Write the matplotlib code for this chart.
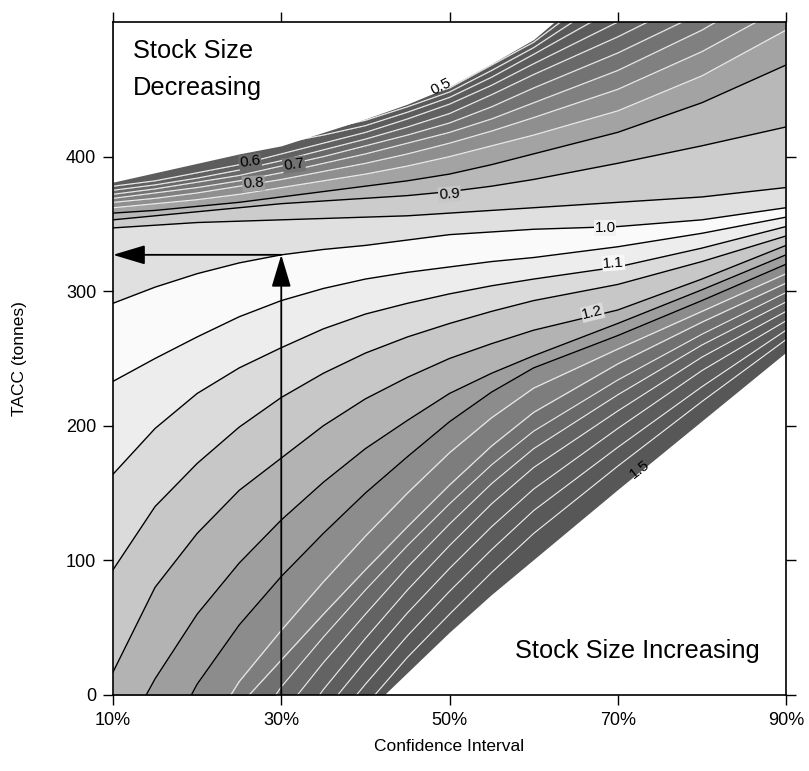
import matplotlib
matplotlib.use("Agg")
import matplotlib.pyplot as plt

plt.rcParams.update({
    "font.family": ["Liberation Sans", "DejaVu Sans"],
    "font.size": 13,
    "axes.linewidth": 1.2,
    "xtick.direction": "out",
    "ytick.direction": "out",
})

# ---- data (TACC, tonnes, at each confidence interval) ----
CI = [10, 15, 20, 25, 30, 35, 40, 45, 50, 55, 60, 70, 80, 90]

# contour 1.0 (stock size unchanged)
ONE = [291, 303, 313, 321, 327, 331, 334, 338, 342, 344, 346, 348, 353, 362]

# contours above 1.0 (stock decreasing), from 0.95 upwards
U1 = [347, 349, 351, 352, 353, 354, 355, 356, 358, 360, 362, 366, 370, 377]
U2 = [353, 356, 359, 362, 365, 367, 369, 371, 374, 378, 383, 395, 408, 422]
U3 = [358, 360, 363, 366, 370, 374, 378, 382, 387, 394, 402, 418, 440, 468]
U4 = [362, 365, 368, 372, 377, 382, 387, 393, 400, 408, 416, 434, 460, 494]
U5 = [366, 369, 373, 378, 383, 389, 395, 402, 410, 419, 429, 450, 478, 512]
U6 = [369, 373, 377, 382, 388, 395, 402, 410, 418, 428, 440, 464, 494, 530]
U7 = [372, 376, 381, 386, 393, 400, 408, 416, 425, 437, 451, 477, 507, 548]
U8 = [375, 379, 384, 390, 397, 405, 413, 422, 432, 446, 461, 489, 520, 565]
U9 = [378, 382, 388, 394, 402, 410, 418, 428, 439, 453, 469, 500, 532, 580]
U10 = [384, 390, 396, 403, 410, 416, 423, 433, 444, 459, 476, 511, 545, 595]
U11 = [387, 393, 399, 406, 413, 420, 427, 437, 448, 464, 481, 522, 558, 610]
U12 = [390, 396, 402, 409, 416, 424, 432, 441, 451, 468, 485, 532, 570, 625]

# contours below 1.0 (stock increasing), from 1.05 downwards
L1 = [233, 250, 266, 281, 293, 302, 309, 314, 318, 322, 325, 333, 343, 355]
L2 = [164, 198, 224, 243, 258, 272, 283, 291, 298, 304, 309, 318, 332, 348]
L3 = [93, 140, 172, 199, 221, 239, 254, 266, 276, 285, 293, 305, 322, 341]
L4 = [17, 80, 120, 152, 176, 200, 220, 236, 250, 261, 271, 286, 309, 334]
L5 = [-45, 12, 60, 98, 130, 158, 183, 204, 224, 239, 252, 276, 301, 327]
L6 = [-100, -50, 8, 52, 88, 120, 150, 177, 203, 225, 243, 267, 293, 320]
L7 = [-160, -110, -40, 10, 48, 84, 118, 150, 180, 206, 228, 257, 285, 313]
L8 = [-210, -160, -80, -8, 26, 60, 93, 125, 156, 185, 210, 246, 277, 306]
L9 = [-260, -210, -130, -40, 6, 43, 78, 111, 142, 171, 196, 234, 268, 299]
L10 = [-310, -260, -180, -80, -15, 24, 60, 95, 127, 157, 183, 223, 260, 292]
L11 = [-360, -310, -230, -120, -40, 4, 42, 78, 111, 142, 169, 211, 251, 285]
L12 = [-410, -360, -280, -160, -65, -13, 25, 61, 94, 125, 153, 198, 241, 278]
L13 = [-460, -410, -330, -200, -100, -30, 8, 44, 77, 108, 137, 184, 229, 271]
L14 = [-510, -460, -380, -240, -130, -48, -8, 28, 60, 91, 120, 170, 218, 264]

# edges of the area with no results (left blank in the chart)
EDGE_TOP = [381, 388, 395, 402, 408, 418, 428, 439, 452, 469, 487, 540, 600, 650]
EDGE_BOTTOM = [-600, -550, -470, -330, -200, -100, -14, 16, 46, 74, 100, 152, 203, 254]

# worked example: 30% confidence -> TACC where stock stays at 1.0
ARROW_CI = 30
ARROW_TACC = 327

XTICKS = [10, 30, 50, 70, 90]
XTICKLABELS = ["10%", "30%", "50%", "70%", "90%"]
YTICKS = [0, 100, 200, 300, 400]
XLIM = (10, 90)
YLIM = (0, 500)

upper = [ONE, U1, U2, U3, U4, U5, U6, U7, U8, U9, U10, U11, U12]
lower = [ONE, L1, L2, L3, L4, L5, L6, L7, L8, L9, L10, L11, L12, L13, L14]

# grey of each band, 1 = white (outermost band last)
UPPER_SHADE = [0.88, 0.80, 0.72, 0.64, 0.56, 0.50, 0.45, 0.41, 0.38, 0.36, 0.35, 0.34, 0.33]
LOWER_SHADE = [0.98, 0.93, 0.86, 0.78, 0.70, 0.62, 0.55, 0.49, 0.44, 0.41, 0.39, 0.37,
               0.36, 0.35, 0.34]
DARK_LINES_UP = 4     # first contours drawn black, the rest show as light lines
DARK_LINES_LOW = 7

fig = plt.figure(figsize=(8.09, 7.71), dpi=100)
ax = fig.add_axes([0.1397, 0.0986, 0.8319, 0.8729])

# ---- shaded bands ----
for i in range(len(upper) - 1):
    ax.fill_between(CI, upper[i], upper[i + 1], color=str(UPPER_SHADE[i]), lw=0, zorder=1)
ax.fill_between(CI, upper[-1], YLIM[1], color=str(UPPER_SHADE[-1]), lw=0, zorder=1)
for i in range(len(lower) - 1):
    ax.fill_between(CI, lower[i + 1], lower[i], color=str(LOWER_SHADE[i]), lw=0, zorder=1)
ax.fill_between(CI, YLIM[0], lower[-1], color=str(LOWER_SHADE[-1]), lw=0, zorder=1)

# ---- contour lines ----
for k, row in enumerate(upper):
    dark = k < DARK_LINES_UP
    ax.plot(CI, row, color="black" if dark else "0.93",
            lw=1.0 if dark else 0.8, zorder=2)
for k, row in enumerate(lower[1:], start=1):
    dark = k < DARK_LINES_LOW
    ax.plot(CI, row, color="black" if dark else "0.93",
            lw=1.0 if dark else 0.8, zorder=2)

# blank areas (no results)
ax.fill_between(CI, EDGE_TOP, YLIM[1] + 200, color="white", lw=0, zorder=3)
ax.fill_between(CI, YLIM[0] - 700, EDGE_BOTTOM, color="white", lw=0, zorder=3)

# ---- contour labels ----
labels = [("0.5", 49, 452, 27, None),
          ("0.6", 26.3, 396, 8, 0.42),
          ("0.7", 31.5, 394, 8, 0.45),
          ("0.8", 26.7, 380, 4, 0.62),
          ("0.9", 50, 372, 4, 0.78),
          ("1.0", 68.5, 347, 0, 0.95),
          ("1.1", 69.5, 321, 4, 0.97),
          ("1.2", 67, 284, 14, 0.86),
          ("1.5", 72.6, 168, 38, None)]
for txt, cx, cy, rot, bg in labels:
    bbox = None if bg is None else dict(boxstyle="square,pad=0.05", fc=str(bg), ec="none")
    ax.text(cx, cy, txt, fontsize=11, ha="center", va="center", rotation=rot,
            rotation_mode="anchor", bbox=bbox, zorder=5)

# ---- worked-example arrows ----
arrow_style = "-|>,head_length=1.0,head_width=0.3"
ax.annotate("", xy=(ARROW_CI, ARROW_TACC), xytext=(ARROW_CI, YLIM[0]),
            arrowprops=dict(arrowstyle=arrow_style, color="black", lw=1.3,
                            mutation_scale=20, shrinkA=0, shrinkB=0), zorder=6)
ax.annotate("", xy=(XLIM[0], ARROW_TACC), xytext=(ARROW_CI, ARROW_TACC),
            arrowprops=dict(arrowstyle=arrow_style, color="black", lw=1.3,
                            mutation_scale=20, shrinkA=0, shrinkB=0), zorder=6)

# ---- region notes ----
ax.text(0.030, 0.975, "Stock Size\nDecreasing", transform=ax.transAxes,
        fontsize=18.3, ha="left", va="top", linespacing=1.7, zorder=7)
ax.text(0.597, 0.055, "Stock Size Increasing", transform=ax.transAxes,
        fontsize=18.3, ha="left", va="baseline", zorder=7)

# ---- axes ----
ax.set_xlim(*XLIM)
ax.set_ylim(*YLIM)
ax.set_xticks(XTICKS)
ax.set_xticklabels(XTICKLABELS)
ax.set_yticks(YTICKS)
ax.tick_params(axis="both", which="both", length=7, width=1.0, labelsize=13,
               top=True, right=True, pad=5)
ax.set_xlabel("Confidence Interval", fontsize=12.5)
ax.set_ylabel("TACC (tonnes)", fontsize=12.5)
ax.xaxis.set_label_coords(0.5, -0.065)
ax.yaxis.set_label_coords(-0.128, 0.5)
for sp in ax.spines.values():
    sp.set_zorder(8)

fig.savefig("out.png", dpi=100)
